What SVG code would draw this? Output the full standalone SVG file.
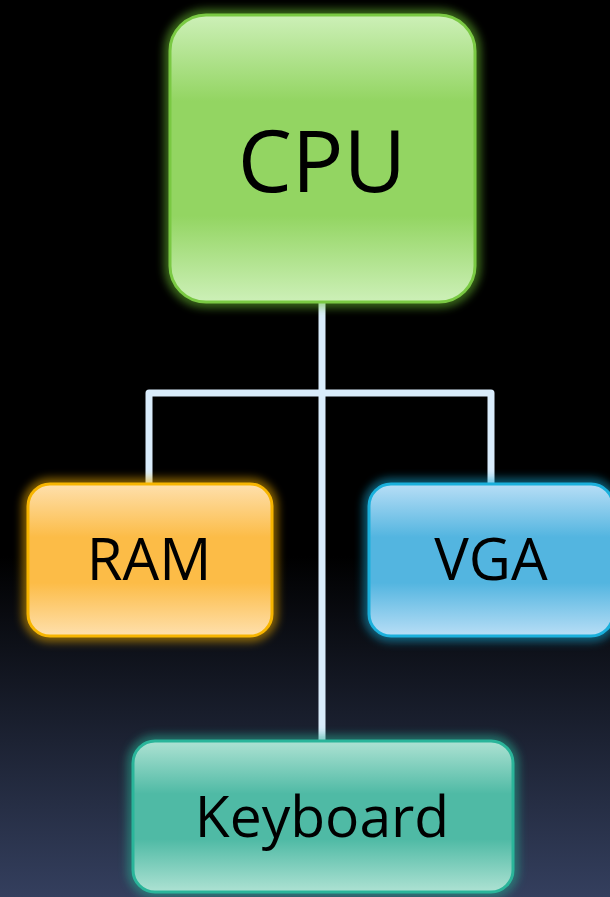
<svg xmlns="http://www.w3.org/2000/svg" width="610" height="897" viewBox="0 0 610 897">
<defs>
<linearGradient id="bg" x1="0" y1="0" x2="0" y2="1">
<stop offset="0" stop-color="#000"/>
<stop offset="0.62" stop-color="#000"/>
<stop offset="1" stop-color="#343f5e"/>
</linearGradient>
<linearGradient id="gGreen" x1="0" y1="0" x2="0" y2="1">
<stop offset="0" stop-color="#cdf0b8"/>
<stop offset="0.3" stop-color="#93d562"/>
<stop offset="0.7" stop-color="#93d562"/>
<stop offset="1" stop-color="#cdf0b8"/>
</linearGradient>
<linearGradient id="gOrange" x1="0" y1="0" x2="0" y2="1">
<stop offset="0" stop-color="#fee0ad"/>
<stop offset="0.35" stop-color="#fcbc47"/>
<stop offset="0.65" stop-color="#fcbc47"/>
<stop offset="1" stop-color="#fee0ad"/>
</linearGradient>
<linearGradient id="gBlue" x1="0" y1="0" x2="0" y2="1">
<stop offset="0" stop-color="#b8def6"/>
<stop offset="0.35" stop-color="#53b5e0"/>
<stop offset="0.65" stop-color="#53b5e0"/>
<stop offset="1" stop-color="#b8def6"/>
</linearGradient>
<linearGradient id="gTeal" x1="0" y1="0" x2="0" y2="1">
<stop offset="0" stop-color="#aee2d3"/>
<stop offset="0.35" stop-color="#4fbaa5"/>
<stop offset="0.65" stop-color="#4fbaa5"/>
<stop offset="1" stop-color="#aee2d3"/>
</linearGradient>
<filter id="glow" x="-20%" y="-20%" width="140%" height="140%">
<feGaussianBlur stdDeviation="4"/>
</filter>
</defs>
<style>
.lbl{font-family:"Open Sans","Noto Sans","DejaVu Sans",sans-serif;fill:#000;text-anchor:middle}
.conn{fill:none;stroke:#d9ecfb;stroke-width:7;stroke-linejoin:round}
.halo{fill:none;stroke-width:12;opacity:0.55}
</style>
<rect width="610" height="897" fill="url(#bg)"/>
<g id="connectors">
<path class="conn" d="M322,302 V740"/>
<path class="conn" d="M149,484 V393 H491 V484"/>
</g>
<g id="cpu">
<rect class="halo" x="170" y="15" width="305" height="287" rx="36" stroke="#6cbf33" filter="url(#glow)"/>
<rect x="170" y="15" width="305" height="287" rx="36" fill="url(#gGreen)" stroke="#7ac943" stroke-width="3"/>
<text class="lbl" x="322" y="192" font-size="86">CPU</text>
</g>
<g id="ram">
<rect class="halo" x="28" y="484" width="244" height="152" rx="22" stroke="#f0ad00" filter="url(#glow)"/>
<rect x="28" y="484" width="244" height="152" rx="22" fill="url(#gOrange)" stroke="#f7b500" stroke-width="3"/>
<text class="lbl" x="149" y="580" font-size="58">RAM</text>
</g>
<g id="vga">
<rect class="halo" x="369" y="484" width="244" height="152" rx="22" stroke="#14a5d0" filter="url(#glow)"/>
<rect x="369" y="484" width="244" height="152" rx="22" fill="url(#gBlue)" stroke="#1ab0dc" stroke-width="3"/>
<text class="lbl" x="491" y="580" font-size="58">VGA</text>
</g>
<g id="keyboard">
<rect class="halo" x="133" y="741" width="380" height="151" rx="22" stroke="#26aa90" filter="url(#glow)"/>
<rect x="133" y="741" width="380" height="151" rx="22" fill="url(#gTeal)" stroke="#2ab59a" stroke-width="3"/>
<text class="lbl" x="322" y="837" font-size="57">Keyboard</text>
</g>
</svg>
